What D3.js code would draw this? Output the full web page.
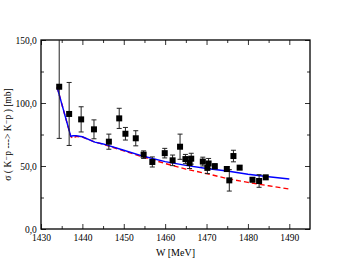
<!DOCTYPE html>
<html>
<head>
<meta charset="utf-8">
<script src="https://cdn.jsdelivr.net/npm/d3@7"></script>
<style>
  body { margin: 0; background: #fff; }
  svg text { font-family: "Liberation Serif", "DejaVu Serif", serif; fill: #000; }
  .axis line { stroke: #333; }
</style>
</head>
<body>
<svg id="chart" width="349" height="270"></svg>
<script>
// measured points
var wData = [1434.4, 1436.8, 1439.7, 1442.8, 1446.4, 1448.9, 1450.4, 1452.9, 1454.8, 1456.9,
             1459.9, 1461.8, 1463.6, 1464.9, 1465.9, 1466.3, 1469.1, 1470.2, 1470.5, 1472.0,
             1474.9, 1475.5, 1476.5, 1478.0, 1481.1, 1482.7, 1484.3];
var sigmaData = [112.9, 91.3, 87.0, 79.1, 69.3, 87.8, 75.6, 72.0, 59.0, 53.2,
                 60.2, 54.5, 65.3, 55.5, 52.4, 55.8, 53.5, 48.5, 52.0, 49.8,
                 47.6, 38.6, 57.9, 48.7, 39.1, 38.1, 41.0];
var errData = [41, 25, 10, 7.5, 6, 8, 5, 6, 3, 4,
               3.8, 4.2, 10, 3.7, 4.4, 4.3, 3.5, 4.5, 4, 2,
               2, 8.5, 4.6, 1.5, 1.5, 5, 1.5];

// model curves
var wCurve = [1433.9, 1437.2, 1437.7, 1438.5, 1440, 1443, 1445, 1450, 1455, 1460, 1465, 1470, 1475, 1480, 1485, 1490];
var blueCurve = [112.5, 73.5, 74.0, 74.0, 73.2, 69.0, 67.5, 62.5, 57.5, 53.5, 50.5, 48.0, 46.0, 43.5, 41.5, 39.7];
var redCurve  = [112.5, 73.5, 71.8, 73.5, 73.0, 69.0, 67.3, 62.0, 56.8, 52.0, 47.5, 44.0, 40.0, 37.0, 34.3, 31.7];

var xMajor = [1430, 1440, 1450, 1460, 1470, 1480, 1490];
var xMinor = [1435, 1445, 1455, 1465, 1475, 1485];
var yMajor = [0, 50, 100, 150];
var yMinor = [25, 75, 125];

var svg = d3.select("#chart");
var pLeft = 41, pRight = 310, pTop = 40, pBottom = 229;

var x = d3.scaleLinear().domain([1430, 1495]).range([pLeft, pRight]);
var y = d3.scaleLinear().domain([0, 150]).range([pBottom, pTop]);

var fmt = function(d) { return d3.format(".1f")(d).replace(".", ","); };

svg.append("defs").append("clipPath").attr("id", "plotClip")
  .append("rect").attr("x", pLeft).attr("y", pTop).attr("width", pRight - pLeft).attr("height", pBottom - pTop);

// Ticks (inward) on all four sides
var addAxis = function(axis, tx, ty) {
  var g = svg.append("g").attr("class", "axis").attr("transform", "translate(" + tx + "," + ty + ")").call(axis);
  g.select(".domain").remove();
  return g;
};
var xb = addAxis(d3.axisBottom(x).tickValues(xMajor).tickSize(-5).tickFormat(d3.format("d")), 0, pBottom);
addAxis(d3.axisBottom(x).tickValues(xMinor).tickSize(-3).tickFormat(""), 0, pBottom);
addAxis(d3.axisTop(x).tickValues(xMajor).tickSize(-5).tickFormat(""), 0, pTop);
addAxis(d3.axisTop(x).tickValues(xMinor).tickSize(-3).tickFormat(""), 0, pTop);
var yl = addAxis(d3.axisLeft(y).tickValues(yMajor).tickSize(-5).tickPadding(9).tickFormat(fmt), pLeft, 0);
addAxis(d3.axisLeft(y).tickValues(yMinor).tickSize(-3).tickFormat(""), pLeft, 0);
addAxis(d3.axisRight(y).tickValues(yMajor).tickSize(-5).tickFormat(""), pRight, 0);
addAxis(d3.axisRight(y).tickValues(yMinor).tickSize(-3).tickFormat(""), pRight, 0);
xb.selectAll("text").attr("font-size", 9.5).attr("y", 5.5).attr("dy", "0.71em");
yl.selectAll("text").attr("font-size", 9.5).attr("dx", "0.5em");

// frame
svg.append("rect").attr("x", pLeft).attr("y", pTop).attr("width", pRight - pLeft).attr("height", pBottom - pTop)
  .attr("fill", "none").attr("stroke", "#000").attr("stroke-width", 1.3);

var plot = svg.append("g").attr("clip-path", "url(#plotClip)");

// Curves
var line = d3.line().x(function(d) { return x(d[0]); }).y(function(d) { return y(d[1]); });
plot.append("path").attr("d", line(d3.zip(wCurve, redCurve)))
  .attr("fill", "none").attr("stroke", "#ff0000").attr("stroke-width", 1.4).attr("stroke-dasharray", "5,3");
plot.append("path").attr("d", line(d3.zip(wCurve, blueCurve)))
  .attr("fill", "none").attr("stroke", "#0000ff").attr("stroke-width", 1.4);

// Error bars + markers
var pts = wData.map(function(w, i) { return { w: w, s: sigmaData[i], e: errData[i] }; });
var eb = plot.append("g").attr("stroke", "#222").attr("stroke-width", 1);
pts.forEach(function(p) {
  var cx = x(p.w);
  eb.append("line").attr("x1", cx).attr("x2", cx).attr("y1", y(p.s - p.e)).attr("y2", y(p.s + p.e));
  eb.append("line").attr("x1", cx - 2.5).attr("x2", cx + 2.5).attr("y1", y(p.s - p.e)).attr("y2", y(p.s - p.e));
  eb.append("line").attr("x1", cx - 2.5).attr("x2", cx + 2.5).attr("y1", y(p.s + p.e)).attr("y2", y(p.s + p.e));
});
plot.append("g").selectAll("rect").data(pts).enter().append("rect")
  .attr("x", function(d) { return x(d.w) - 3; })
  .attr("y", function(d) { return y(d.s) - 3; })
  .attr("width", 6).attr("height", 6).attr("fill", "#000");

// Axis labels
svg.append("text").attr("x", (pLeft + pRight) / 2).attr("y", 256).attr("text-anchor", "middle")
  .attr("font-size", 10).text("W  [MeV]");
svg.append("text").attr("transform", "translate(11," + ((pTop + pBottom) / 2) + ") rotate(-90)")
  .attr("text-anchor", "middle").attr("font-size", 9.5)
  .text("σ ( K⁻p ---> K⁻p ) [mb]");
</script>
</body>
</html>
